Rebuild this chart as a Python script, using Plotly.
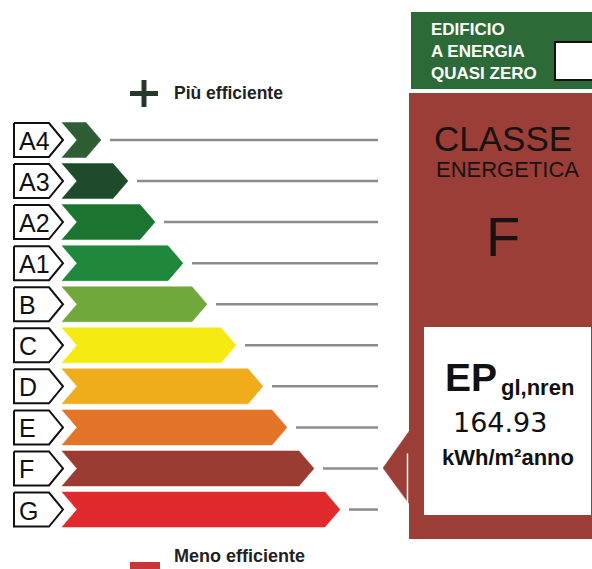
import plotly.graph_objects as go

# ---- data ----
classes = ["A4", "A3", "A2", "A1", "B", "C", "D", "E", "F", "G"]
arrow_end = [101, 128, 155, 183, 207, 236, 263, 287, 314, 340]
class_colors = ["#2f5e35", "#1f4a2b", "#1c7431", "#1f883c", "#71a83b",
                "#f5ea12", "#f0ac1b", "#e47427", "#9b3c33", "#e12a2e"]
current_class = "F"
ep_value = 164.93
ep_unit = "kWh/m²anno"

# ---- layout constants (pixels) ----
W, H = 592, 569
ROW0, PITCH, HALF = 140.0, 41.06, 17.5
BAR_X0, NOTCH, TIP = 62, 15, 15
LINE_END = 378
BROWN = "#9b3e37"
GREEN = "#2c6a38"
FONT = "Liberation Sans"

fig = go.Figure()

for i, (cls, end, col) in enumerate(zip(classes, arrow_end, class_colors)):
    c = ROW0 + i * PITCH
    # label box (pentagon)
    fig.add_trace(go.Scatter(
        x=[14, 49, 63, 49, 14, 14], y=[c - 17, c - 17, c, c + 17, c + 17, c - 17],
        mode="lines", fill="toself", fillcolor="white",
        line=dict(color="#111111", width=2), hoverinfo="skip", showlegend=False))
    fig.add_annotation(x=16.5, y=c + 1, text=cls, showarrow=False, xanchor="left",
                       yanchor="middle", font=dict(family=FONT, size=25, color="#111111"))
    # class arrow
    fig.add_trace(go.Scatter(
        x=[BAR_X0, end - TIP, end, end - TIP, BAR_X0, BAR_X0 + NOTCH, BAR_X0],
        y=[c - HALF, c - HALF, c, c + HALF, c + HALF, c, c - HALF],
        mode="lines", fill="toself", fillcolor=col, line=dict(color=col, width=0.5),
        hoverinfo="skip", showlegend=False))
    # gray leader line
    fig.add_trace(go.Scatter(
        x=[end + 9, LINE_END], y=[c, c], mode="lines",
        line=dict(color="#8c8c8c", width=2.5), hoverinfo="skip", showlegend=False))

# right panel
shapes = [
    dict(type="rect", x0=411, x1=593, y0=12, y1=89, fillcolor=GREEN, line=dict(width=0)),
    dict(type="rect", x0=555, x1=594, y0=42, y1=80, fillcolor="white",
         line=dict(color="#111111", width=2)),
    dict(type="rect", x0=409, x1=593, y0=93, y1=539, fillcolor=BROWN, line=dict(width=0)),
    dict(type="rect", x0=424, x1=591, y0=327, y1=515, fillcolor="white", line=dict(width=0)),
    # plus sign
    dict(type="rect", x0=130, x1=158, y0=91, y1=96, fillcolor="#26382b", line=dict(width=0)),
    dict(type="rect", x0=141.5, x1=146.5, y0=80, y1=107, fillcolor="#26382b", line=dict(width=0)),
    # red mark bottom
    dict(type="rect", x0=130, x1=160, y0=562, y1=572, fillcolor="#c8363a", line=dict(width=0)),
]
fig.update_layout(shapes=shapes)

# pointer arrow at current class
ci = classes.index(current_class)
cy = ROW0 + ci * PITCH
fig.add_trace(go.Scatter(
    x=[383, 410, 410, 383], y=[cy - 0.5, cy - 38.5, cy + 36.5, cy - 0.5],
    mode="lines", fill="toself", fillcolor=BROWN, line=dict(color=BROWN, width=0.5),
    hoverinfo="skip", showlegend=False))
fig.add_trace(go.Scatter(
    x=[407.5, 407.5], y=[cy - 15, cy + 37], mode="lines",
    line=dict(color="white", width=1.5), hoverinfo="skip", showlegend=False))

ann = [
    dict(x=429, y=29, text="EDIFICIO", xanchor="left", size=17, color="white", bold=True),
    dict(x=429, y=51, text="A ENERGIA", xanchor="left", size=17, color="white", bold=True),
    dict(x=429, y=73.5, text="QUASI ZERO", xanchor="left", size=17, color="white", bold=True),
    dict(x=503, y=138, text="CLASSE", xanchor="center", size=35, color="#1a1212"),
    dict(x=507, y=169, text="ENERGETICA", xanchor="center", size=22, color="#1a1212"),
    dict(x=503, y=236, text=current_class, xanchor="center", size=56, color="#1a1212"),
    dict(x=443, y=377, text="EP", xanchor="left", size=39, color="#111111", bold=True),
    dict(x=499, y=387, text="gl,nren", xanchor="left", size=22, color="#111111", bold=True),
    dict(x=500, y=422, text=f"{ep_value:.2f}", xanchor="center", size=27, color="#111111",
         family="DejaVu Sans"),
    dict(x=508, y=457, text=ep_unit, xanchor="center", size=22, color="#111111", bold=True),
    dict(x=172, y=93, text="Più efficiente", xanchor="left", size=17.5, color="#222222", bold=True),
    dict(x=172, y=556, text="Meno efficiente", xanchor="left", size=18, color="#222222", bold=True),
]
for a in ann:
    txt = f"<b>{a['text']}</b>" if a.get("bold") else a["text"]
    fig.add_annotation(x=a["x"], y=a["y"], text=txt, showarrow=False, xanchor=a["xanchor"],
                       yanchor="middle",
                       font=dict(family=a.get("family", FONT), size=a["size"], color=a["color"]))

fig.update_layout(
    width=W, height=H, margin=dict(l=0, r=0, t=0, b=0),
    paper_bgcolor="white", plot_bgcolor="white", showlegend=False,
    xaxis=dict(range=[0, W], visible=False, fixedrange=True),
    yaxis=dict(range=[H, 0], visible=False, fixedrange=True),
)
fig.write_html("out.html", config={"displayModeBar": False},
               post_script="document.body.style.margin='0';document.body.style.overflow='hidden';")
